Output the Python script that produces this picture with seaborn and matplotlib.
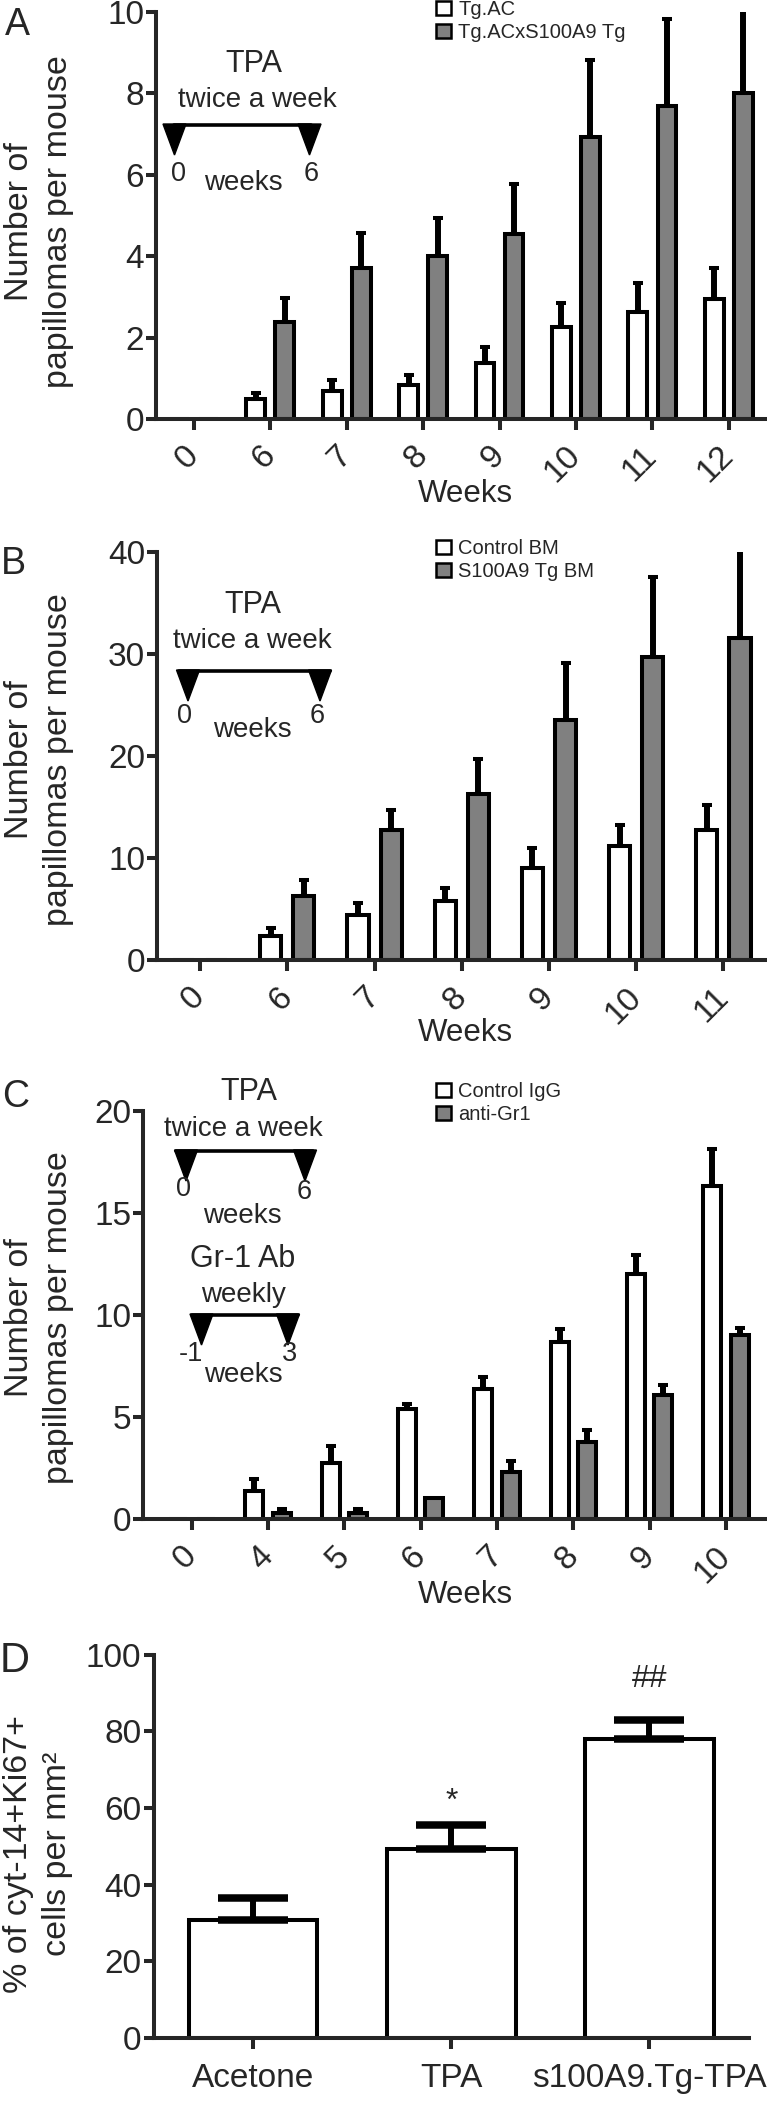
import matplotlib
matplotlib.use("Agg")
import matplotlib.pyplot as plt
from matplotlib.patches import Polygon
from matplotlib.lines import Line2D
import seaborn as sns
import numpy as np
import pandas as pd

# --- data ---
# panel A
weeks_a = ["0", "6", "7", "8", "9", "10", "11", "12"]
groups_a = ["Tg.AC", "Tg.ACxS100A9 Tg"]
tgac_mean = [0, 0.50, 0.69, 0.83, 1.39, 2.26, 2.64, 2.95]
tgac_err = [0, 0.15, 0.26, 0.25, 0.38, 0.59, 0.71, 0.76]
s100_mean = [0, 2.39, 3.71, 4.01, 4.55, 6.93, 7.70, 8.00]
s100_err = [0, 0.58, 0.85, 0.94, 1.23, 1.88, 2.13, 2.40]

# panel B
weeks_b = ["0", "6", "7", "8", "9", "10", "11"]
groups_b = ["Control BM", "S100A9 Tg BM"]
ctrlbm_mean = [0, 2.43, 4.49, 5.80, 9.05, 11.2, 12.8]
ctrlbm_err = [0, 0.77, 1.15, 1.30, 1.95, 2.10, 2.40]
tgbm_mean = [0, 6.35, 12.77, 16.3, 23.6, 29.7, 31.65]
tgbm_err = [0, 1.49, 1.93, 3.40, 5.60, 7.90, 9.00]

# panel C
weeks_c = ["0", "4", "5", "6", "7", "8", "9", "10"]
groups_c = ["Control IgG", "anti-Gr1"]
igg_mean = [0, 1.40, 2.75, 5.39, 6.37, 8.68, 12.01, 16.31]
igg_err = [0, 0.57, 0.82, 0.25, 0.62, 0.64, 0.93, 1.80]
gr1_mean = [0, 0.29, 0.29, 1.04, 2.31, 3.79, 6.07, 9.01]
gr1_err = [0, 0.21, 0.21, 0, 0.55, 0.59, 0.50, 0.37]

# panel D
treat_d = ["Acetone", "TPA", "s100A9.Tg-TPA"]
ki67_mean = [30.7, 49.2, 78.0]
ki67_err = [5.9, 6.4, 4.9]
ki67_sig = ["", "*", "##"]
ki67_sig_y = [0, 59.5, 91.7]   # baseline of the significance marks

W, H = 767, 2105
GREY = "#808080"

sns.set_style("ticks")
plt.rcParams["font.family"] = ["Liberation Sans", "DejaVu Sans"]
plt.rcParams["axes.linewidth"] = 2.9

fig = plt.figure(figsize=(W / 100, H / 100), dpi=100)


def fx(x):
    return x / W


def fy(y):
    return 1 - y / H


def add_ax(l, t, r, b):
    return fig.add_axes([fx(l), fy(b), (r - l) / W, (b - t) / H])


def style_ax(ax, ylim, yticks, xlim):
    ax.set_ylim(*ylim)
    ax.set_yticks(yticks)
    ax.set_xlim(*xlim)
    sns.despine(ax=ax)
    ax.spines["left"].set_linewidth(2.9)
    ax.spines["bottom"].set_linewidth(2.9)
    ax.tick_params(axis="y", direction="out", length=7.2, width=2.9,
                   labelsize=24, pad=1)
    ax.tick_params(axis="x", direction="out", length=8, width=2.9,
                   labelsize=24)
    ax.set_xlabel("")
    ax.set_ylabel("")


def add_errors(ax, errs_list, elw, cap, capthick):
    for cont, errs in zip(ax.containers, errs_list):
        xs, ys, es = [], [], []
        for bar, e in zip(cont, errs):
            if e > 0:
                xs.append(bar.get_x() + bar.get_width() / 2)
                ys.append(bar.get_height())
                es.append(e)
        es = np.array(es)
        ax.errorbar(xs, ys, yerr=[np.zeros_like(es), es], fmt="none",
                    ecolor="black", elinewidth=elw, capsize=cap,
                    capthick=capthick, zorder=3)


def grouped_panel(rect, weeks, groups, m1, e1, m2, e2, ylim, yticks, xlim,
                  width, gap, leg_xy):
    ax = add_ax(*rect)
    df = pd.DataFrame({
        "week": weeks * 2,
        "group": [groups[0]] * len(weeks) + [groups[1]] * len(weeks),
        "value": m1 + m2,
    })
    sns.barplot(data=df, x="week", y="value", hue="group", order=weeks,
                hue_order=groups, palette=["white", GREY], saturation=1,
                edgecolor="black", linewidth=2.9, width=width, gap=gap,
                errorbar=None, ax=ax)
    add_errors(ax, [e1, e2], 4.3, 3.6, 2.9)
    style_ax(ax, ylim, yticks, xlim)
    plt.setp(ax.get_xticklabels(), rotation=45, ha="right", va="center",
             rotation_mode="anchor")
    ax.tick_params(axis="x", pad=15)
    handles, labels = ax.get_legend_handles_labels()
    ax.get_legend().remove()
    leg = ax.legend(handles, labels, loc="upper left",
                    bbox_to_anchor=(fx(leg_xy[0]), fy(leg_xy[1])),
                    bbox_transform=fig.transFigure, frameon=False,
                    fontsize=14.5, handlelength=0.75, handleheight=0.75,
                    handletextpad=0.35, labelspacing=0.2, borderpad=0,
                    borderaxespad=0)
    for h in leg.legend_handles:
        h.set_linewidth(1.8)
    return ax


def timeline(x0, x1, y, c0, c1, hw=11.5, th=30):
    fig.add_artist(Line2D([fx(x0), fx(x1)], [fy(y), fy(y)], color="black",
                          lw=2.6, transform=fig.transFigure))
    for c in (c0, c1):
        tri = Polygon([(fx(c - hw), fy(y - 1)), (fx(c + hw), fy(y - 1)),
                       (fx(c), fy(y + th))], closed=True, color="black",
                      transform=fig.transFigure)
        fig.add_artist(tri)


def label(x, y, s, size, **kw):
    fig.text(fx(x), fy(y), s, fontsize=size, ha="center", va="center", **kw)


YLAB = "Number of\npapillomas per mouse"

# --- panel A ---
grouped_panel((155.6, 11.8, 767, 419.2), weeks_a, groups_a, tgac_mean,
              tgac_err, s100_mean, s100_err, (0, 10), [0, 2, 4, 6, 8, 10],
              (-0.5, 7.5), 0.76, 0.355, (436, 0))
label(17, 25, "A", 27)
label(39, 222, YLAB, 24.5, rotation=90, linespacing=1.3)
label(465, 494, "Weeks", 22.5)
label(254, 64, "TPA", 22)
label(257, 100, "twice a week", 20)
timeline(173.7, 310.7, 125, 174.5, 309.5)
label(178.6, 174, "0", 19.5)
label(310.7, 174, "6", 19.5)
label(243, 183, "weeks", 20)

# --- panel B ---
grouped_panel((156.5, 552.4, 767, 960.4), weeks_b, groups_b, ctrlbm_mean,
              ctrlbm_err, tgbm_mean, tgbm_err, (0, 40), [0, 10, 20, 30, 40],
              (-0.5, 6.5), 0.76, 0.36, (436, 539))
label(13, 564, "B", 27)
label(39, 760, YLAB, 24.5, rotation=90, linespacing=1.3)
label(465, 1033, "Weeks", 22.5)
label(253, 605, "TPA", 22)
label(252, 641, "twice a week", 20)
timeline(178.6, 330.2, 671, 188, 320)
label(184, 716, "0", 19.5)
label(317, 716, "6", 19.5)
label(252, 730, "weeks", 20)

# --- panel C ---
grouped_panel((143, 1110.6, 767, 1519.4), weeks_c, groups_c, igg_mean,
              igg_err, gr1_mean, gr1_err, (0, 20), [0, 5, 10, 15, 20],
              (-0.64, 7.54), 0.72, 0.345, (436, 1082))
label(16, 1097, "C", 27)
label(39, 1318, YLAB, 24.5, rotation=90, linespacing=1.3)
label(465, 1595, "Weeks", 22.5)
label(248.5, 1092, "TPA", 22)
label(243.6, 1129, "twice a week", 20)
timeline(176, 313, 1151, 186, 305)
label(183.5, 1189, "0", 19.5)
label(304, 1192, "6", 19.5)
label(242, 1216, "weeks", 20)
label(243, 1259, "Gr-1 Ab", 22)
label(243, 1295.5, "weekly", 20)
timeline(192, 297.5, 1315, 201.5, 288)
label(191, 1354, "-1", 19.5)
label(289.6, 1354, "3", 19.5)
label(243, 1375, "weeks", 20)

# --- panel D ---
axd = add_ax(154, 1654.7, 748.5, 2038)
sns.barplot(x=treat_d, y=ki67_mean, color="white", saturation=1,
            edgecolor="black", linewidth=2.9, width=0.65, errorbar=None,
            ax=axd)
add_errors(axd, [ki67_err], 4.3, 25.5, 5.4)
style_ax(axd, (0, 100), [0, 20, 40, 60, 80, 100], (-0.5, 2.5))
axd.tick_params(axis="x", pad=10)
axd.tick_params(axis="y", pad=2)
for i, (s, y) in enumerate(zip(ki67_sig, ki67_sig_y)):
    if s:
        axd.text(i, y, s, fontsize=23, ha="center", va="baseline")
label(15, 1661, "D", 30)
label(38, 1854, "% of cyt-14+Ki67+\ncells per mm\u00b2", 24.5, rotation=90,
      linespacing=1.3)

fig.savefig("out.png", dpi=100)
